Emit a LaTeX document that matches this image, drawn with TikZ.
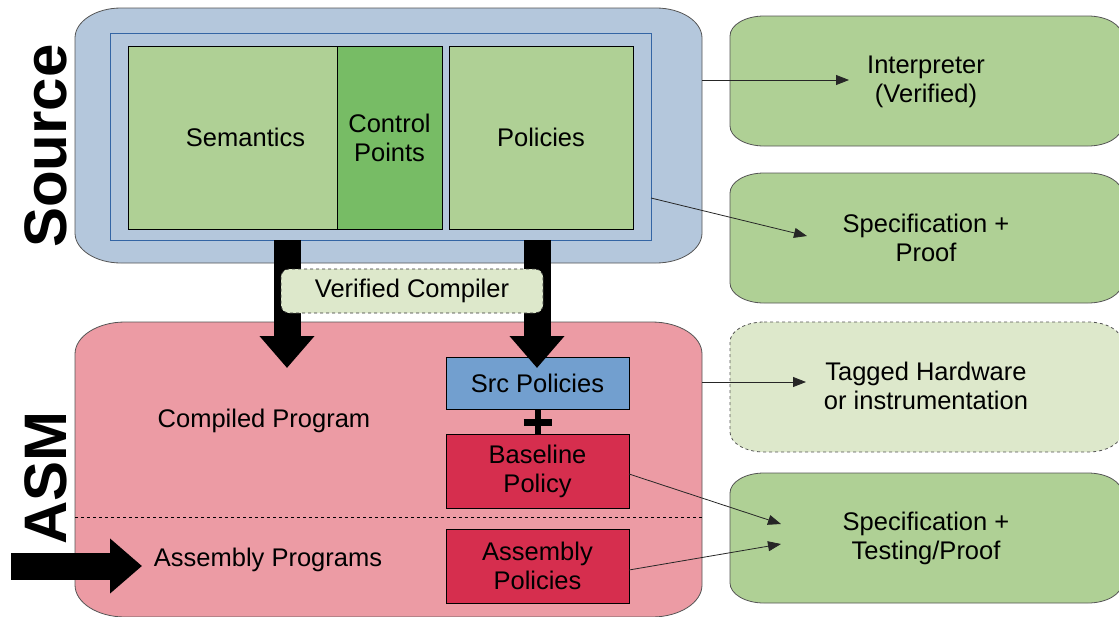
\documentclass[tikz,border=0pt]{standalone}
\usepackage{fontspec}
\setmainfont{Liberation Sans}
\usetikzlibrary{arrows.meta,calc}
\definecolor{srcblue}{HTML}{B4C7DC}
\definecolor{innerblue}{HTML}{3465A4}
\definecolor{lgreen}{HTML}{AFD095}
\definecolor{dgreen}{HTML}{77BC65}
\definecolor{pale}{HTML}{DDE8CB}
\definecolor{pink}{HTML}{EC9BA4}
\definecolor{polred}{HTML}{D62E4E}
\definecolor{polblue}{HTML}{729FCF}
\definecolor{edge}{HTML}{555555}
% #1 style, #2 node name, #3 x radius, #4 y radius (pt)
\newcommand\myoval[4]{%
  \path[#1] let \p1=(#2.north west), \p2=(#2.south east) in
    (\x1+#3pt,\y1) -- (\x2-#3pt,\y1)
    .. controls (\x2-0.448*#3pt,\y1) and (\x2,\y1-0.448*#4pt) .. (\x2,\y1-#4pt)
    -- (\x2,\y2+#4pt)
    .. controls (\x2,\y2+0.448*#4pt) and (\x2-0.448*#3pt,\y2) .. (\x2-#3pt,\y2)
    -- (\x1+#3pt,\y2)
    .. controls (\x1+0.448*#3pt,\y2) and (\x1,\y2+0.448*#4pt) .. (\x1,\y2+#4pt)
    -- (\x1,\y1-#4pt)
    .. controls (\x1,\y1-0.448*#4pt) and (\x1+0.448*#3pt,\y1) .. cycle;}
\begin{document}
\begin{tikzpicture}[x=1pt,y=-1pt,
  every node/.style={inner sep=0pt,outer sep=0pt,align=center,font=\fontsize{25.5}{29}\selectfont},
  area/.style={anchor=north west},
  outline/.style={draw=edge,line width=0.8pt},
  sidebox/.style={anchor=north west,minimum width=392pt,minimum height=130pt},
  cell/.style={draw=black,line width=0.8pt,anchor=north west},
  thinarrow/.style={draw=black!85,line width=0.8pt,-{Triangle[length=13pt,width=10pt]}},
  fatarrow/.style={draw=black,line width=27pt,-{Triangle[length=32pt,width=53pt]}},
  sidelabel/.style={font=\fontsize{60}{60}\selectfont\bfseries,rotate=90}]
\useasboundingbox (0,0) rectangle (1119,616);
\clip (0,0) rectangle (1119,616);
% source block
\node[area,minimum width=627pt,minimum height=255pt] (src) at (75,8) {};
\myoval{outline,fill=srcblue}{src}{46}{30}
\node[draw=innerblue,line width=0.8pt,anchor=north west,fill=srcblue,minimum width=541pt,minimum height=207pt] (inner) at (110,33) {};
\node[cell,fill=lgreen,minimum width=209pt,minimum height=183pt] (sem) at (128,46) {};
\node at ($(sem.center)+(13,0)$) {Semantics};
\node[cell,fill=dgreen,minimum width=105pt,minimum height=183pt] (cp) at (337,46) {};
\node at (cp.center) {Control\\Points};
\node[cell,fill=lgreen,minimum width=184pt,minimum height=183pt] (pol) at (449,46) {};
\node at (pol.center) {Policies};
% asm block
\node[area,minimum width=627pt,minimum height=295pt] (asm) at (75,322) {};
\myoval{outline,fill=pink}{asm}{50}{32}
\draw[dashed,line width=0.8pt] (75,517) -- (702,517);
\node (comp) at (264,421) {Compiled Program};
\node (asmprog) at (268,560) {Assembly Programs};
\node[cell,fill=polblue,minimum width=183pt,minimum height=52pt] (srcpol) at (446,357) {};
\node at (srcpol.center) {Src Policies};
\node[cell,fill=polred,minimum width=183pt,minimum height=74pt] (basepol) at (446,434) {};
\node at (basepol.center) {Baseline\\Policy};
\node[cell,fill=polred,minimum width=183pt,minimum height=74pt] (asmpol) at (446,529) {};
\node at (asmpol.center) {Assembly\\Policies};
% plus
\draw[line width=6pt] (srcpol.south) -- (basepol.north);
\draw[line width=7pt] ($(srcpol.south)+(-14,13)$) -- ($(srcpol.south)+(14,13)$);
% side labels
\node[sidelabel] (srclab) at (46,146) {Source};
\node[sidelabel] (asmlab) at (46,478) {ASM};
% fat arrows
\coordinate (fa1) at ($(inner.south west)+(177,0)$);
\coordinate (fb1) at ($(inner.south west)+(427,0)$);
\coordinate (fa2) at (287,368);
\coordinate (fb2) at (537,368);
\draw[fatarrow] (fa1) -- (fa2);
\draw[fatarrow] (fb1) -- (fb2);
\coordinate (inarrow) at (11,566);
\coordinate (intip) at (142,566);
\draw[fatarrow] (inarrow) -- (intip);
% verified compiler
\node[draw=black!80,dashed,line width=0.8pt,fill=pale,rounded corners=8pt,minimum width=262pt,minimum height=44pt,anchor=north west] (vc) at (281,269) {};
\node at (vc.center) {Verified Compiler};
% right boxes
\node[sidebox] (interp) at (730,16) {};
\myoval{outline,fill=lgreen}{interp}{34}{20}
\node at (926,82) {Interpreter\\(Verified)};
\node[sidebox] (spec1) at (730,173) {};
\myoval{outline,fill=lgreen}{spec1}{34}{20}
\node at (926,238) {Specification +\\Proof};
\node[sidebox] (tagged) at (730,322) {};
\myoval{outline,fill=pale,dashed}{tagged}{34}{20}
\node at (926,386) {Tagged Hardware\\or instrumentation};
\node[sidebox] (spec2) at (730,473) {};
\myoval{outline,fill=lgreen}{spec2}{34}{20}
\node at (926,538) {Specification +\\Testing/Proof};
% thin arrows
\draw[thinarrow] (src.east |- 0,80) -- ($(interp.west)+(119,-1)$);
\draw[thinarrow] ($(inner.south east)+(0,-42)$) -- ($(spec1.west)+(77,-2)$);
\draw[thinarrow] (asm.east |- 0,382) -- ($(tagged.west)+(76,-5)$);
\draw[thinarrow] ($(basepol.east)+(0,3)$) -- ($(spec2.west)+(51,-14)$);
\draw[thinarrow] ($(asmpol.east)+(0,4)$) -- ($(spec2.west)+(51,6)$);
\end{tikzpicture}
\end{document}
